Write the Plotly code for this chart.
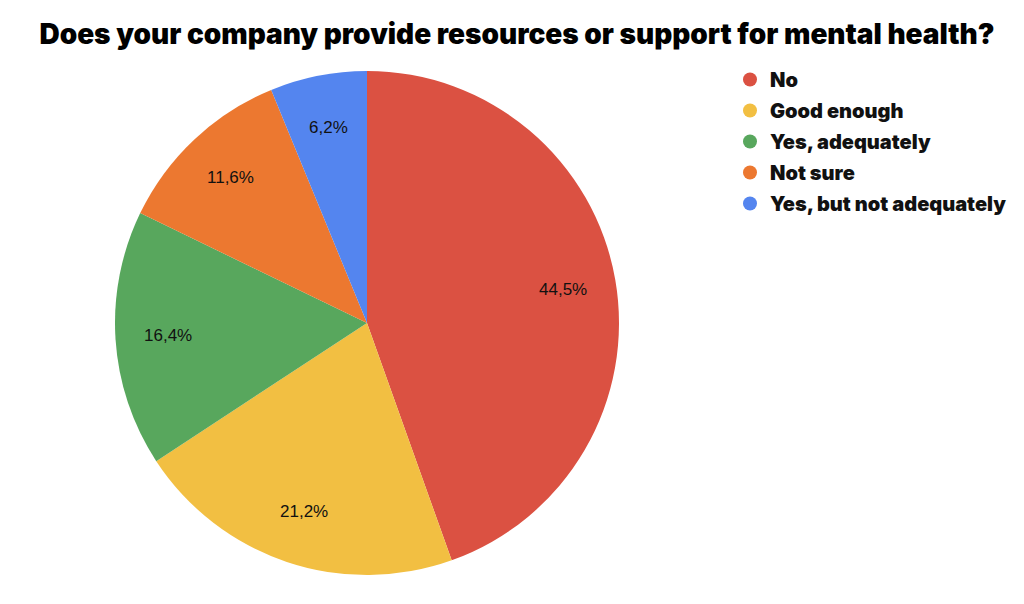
import math
import plotly.graph_objects as go

# Survey answers, in the order they appear in the pie
answers = ["No", "Good enough", "Yes, adequately", "Not sure", "Yes, but not adequately"]
shares = [44.5, 21.2, 16.4, 11.6, 6.2]
colors = ["#DB5142", "#F2BF42", "#58A75D", "#EC7830", "#5485EF"]

W, H = 1016, 596   # page body adds an 8px margin


def px(x):
    return (x - 8) / W


def py(y):
    return 1 - (y - 8) / H


# pie geometry (in screen pixels)
cx, cy, R = 367, 323, 252

fig = go.Figure()

fig.add_trace(go.Pie(
    labels=answers,
    values=shares,
    sort=False,
    direction="clockwise",
    rotation=0,
    marker=dict(colors=colors, line=dict(width=0)),
    textinfo="none",
    hoverinfo="label+percent",
    showlegend=False,
    domain=dict(x=[px(cx - R), px(cx + R)], y=[py(cy + R), py(cy - R)]),
))

# percentage labels sit at ~0.79 of the radius, like the original
total = sum(shares)
acc = 0
for v in shares:
    mid = (acc + v / 2) / total
    acc += v
    th = 2 * math.pi * mid
    lx = cx + 0.79 * R * math.sin(th)
    ly = cy - 0.79 * R * math.cos(th)
    fig.add_annotation(
        x=px(lx), y=py(ly), xref="paper", yref="paper",
        xanchor="center", yanchor="middle",
        text=f"{v / total * 100:.1f}%".replace(".", ","),
        showarrow=False,
        font=dict(family="Liberation Sans, Arial", size=17, color="#111"),
    )

# round legend markers like the original chart
for name, c in zip(answers, colors):
    fig.add_trace(go.Scatter(
        x=[None], y=[None], mode="markers", name=name, legendgroup=name,
        marker=dict(symbol="circle", size=14, color=c),
    ))

fig.update_layout(
    width=W,
    height=H,
    paper_bgcolor="white",
    plot_bgcolor="white",
    margin=dict(l=0, r=0, t=0, b=0),
    title=dict(
        text="Does your company provide resources or support for mental health?",
        x=px(517), xanchor="center",
        y=py(34), yanchor="middle",
        font=dict(family="Inter, DejaVu Sans", size=28, weight=900, color="black"),
    ),
    xaxis=dict(visible=False),
    yaxis=dict(visible=False),
    legend=dict(
        x=px(730), xanchor="left",
        y=py(60), yanchor="top",
        font=dict(family="Inter, DejaVu Sans", size=20, weight=900, color="#111"),
        tracegroupgap=2,
        itemsizing="trace",
    ),
)

fig.write_html("out.html")
